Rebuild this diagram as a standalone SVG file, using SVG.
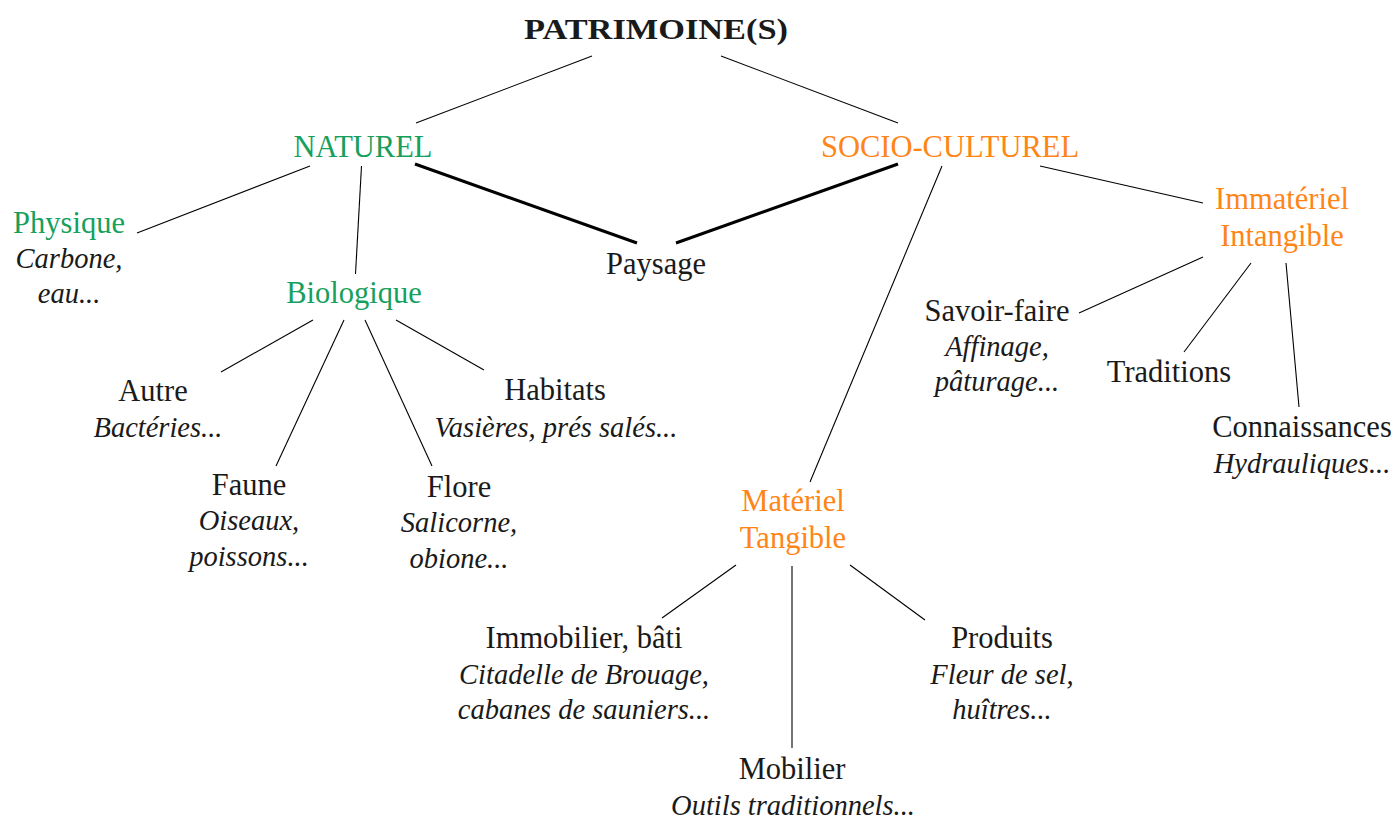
<svg xmlns="http://www.w3.org/2000/svg" width="1397" height="819" viewBox="0 0 1397 819">
<style>
text{font-family:"Liberation Serif","Times New Roman",serif;font-size:30.5px;text-anchor:middle;fill:#1a1a1a}
.b{font-weight:bold;font-size:30px}
.i{font-style:italic;font-size:28.5px}
.g{fill:#17a05d}
.o{fill:#ff8516}
.thin{stroke:#000;stroke-width:1.1;fill:none}
.thick{stroke:#000;stroke-width:3;fill:none}
</style>
<rect width="1397" height="819" fill="#fff"/>
<g id="connectors">
<line class="thin" x1="592" y1="56" x2="416" y2="123"/>
<line class="thin" x1="721" y1="56" x2="898" y2="123"/>
<line class="thin" x1="310" y1="166" x2="137" y2="233"/>
<line class="thin" x1="361.5" y1="166" x2="355.5" y2="274"/>
<line class="thick" x1="415" y1="164" x2="637" y2="243"/>
<line class="thick" x1="898" y1="164" x2="676" y2="243"/>
<line class="thin" x1="942" y1="166" x2="810" y2="482"/>
<line class="thin" x1="1040" y1="166" x2="1203" y2="203"/>
<line class="thin" x1="1203" y1="257" x2="1079" y2="313"/>
<line class="thin" x1="1251" y1="263" x2="1184" y2="352"/>
<line class="thin" x1="1286" y1="263" x2="1299" y2="407"/>
<line class="thin" x1="313" y1="320" x2="221" y2="372"/>
<line class="thin" x1="344" y1="320" x2="276" y2="466"/>
<line class="thin" x1="365" y1="320" x2="432" y2="466"/>
<line class="thin" x1="396" y1="320" x2="484" y2="370"/>
<line class="thin" x1="736" y1="565" x2="662" y2="618"/>
<line class="thin" x1="792" y1="566" x2="792" y2="748"/>
<line class="thin" x1="850" y1="565" x2="925" y2="620"/>
</g>
<g id="patrimoine"><text class="b" x="656" y="39" textLength="264" lengthAdjust="spacingAndGlyphs">PATRIMOINE(S)</text></g>
<g id="naturel"><text class="g" x="363" y="157">NATUREL</text></g>
<g id="socioculturel"><text class="o" x="950" y="157">SOCIO-CULTUREL</text></g>
<g id="physique"><text class="g" x="69" y="233">Physique</text><text class="i" x="69" y="268">Carbone,</text><text class="i" x="69" y="303">eau...</text></g>
<g id="paysage"><text x="656" y="274">Paysage</text></g>
<g id="biologique"><text class="g" x="354" y="303">Biologique</text></g>
<g id="immateriel"><text class="o" x="1282" y="209">Immatériel</text><text class="o" x="1282" y="246">Intangible</text></g>
<g id="savoirfaire"><text x="997" y="321">Savoir-faire</text><text class="i" x="997" y="356">Affinage,</text><text class="i" x="997" y="391">pâturage...</text></g>
<g id="traditions"><text x="1169" y="382">Traditions</text></g>
<g id="connaissances"><text x="1302" y="437">Connaissances</text><text class="i" x="1302" y="473">Hydrauliques...</text></g>
<g id="autre"><text x="153" y="401">Autre</text><text class="i" x="158" y="437">Bactéries...</text></g>
<g id="habitats"><text x="555" y="400">Habitats</text><text class="i" x="556" y="437">Vasières, prés salés...</text></g>
<g id="faune"><text x="249" y="495">Faune</text><text class="i" x="249" y="530">Oiseaux,</text><text class="i" x="249" y="566">poissons...</text></g>
<g id="flore"><text x="459" y="497">Flore</text><text class="i" x="459" y="532">Salicorne,</text><text class="i" x="459" y="568">obione...</text></g>
<g id="materiel"><text class="o" x="793" y="511">Matériel</text><text class="o" x="793" y="548">Tangible</text></g>
<g id="immobilier"><text x="584" y="648">Immobilier, bâti</text><text class="i" x="584" y="684">Citadelle de Brouage,</text><text class="i" x="584" y="719">cabanes de sauniers...</text></g>
<g id="mobilier"><text x="792" y="779">Mobilier</text><text class="i" x="793" y="815">Outils traditionnels...</text></g>
<g id="produits"><text x="1002" y="648">Produits</text><text class="i" x="1002" y="684">Fleur de sel,</text><text class="i" x="1002" y="719">huîtres...</text></g>
</svg>
